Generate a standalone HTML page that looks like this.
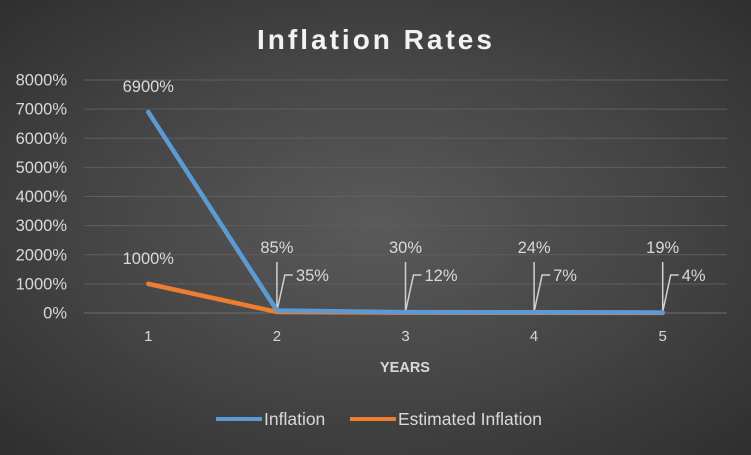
<!DOCTYPE html>
<html><head><meta charset="utf-8"><style>
html,body{margin:0;padding:0}
body{width:751px;height:450px;overflow:hidden;background:radial-gradient(ellipse at 50% 50%,#5a5a5a 0%,#444 55%,#2f2f2f 100%);font-family:"Liberation Sans",sans-serif}
</style></head><body>
<svg id="chart" width="751" height="450" xmlns="http://www.w3.org/2000/svg">
<text x="376" y="49" text-anchor="middle" fill="#f2f2f2" font-size="28" font-weight="bold" letter-spacing="3" font-family="Liberation Sans, sans-serif">Inflation Rates</text>
<g id="grid"></g><g id="yticks"></g><g id="xticks"></g><g id="leaders"></g><g id="series"></g><g id="labels"></g>
<text x="405" y="372" text-anchor="middle" fill="#d9d9d9" font-size="14.5" font-weight="bold">YEARS</text>
<g>
<line x1="216" y1="419" x2="262" y2="419" stroke="#5b9bd5" stroke-width="4"/>
<text x="264" y="425" fill="#d9d9d9" font-size="17.5">Inflation</text>
<line x1="350" y1="419" x2="396" y2="419" stroke="#ed7d31" stroke-width="4"/>
<text x="398" y="425" fill="#d9d9d9" font-size="17.5">Estimated Inflation</text>
</g>
</svg>
<script>
const categories=["1","2","3","4","5"];
const inflation=[6900,85,30,24,19];
const estimated=[1000,35,12,7,4];
const yTicks=[0,1000,2000,3000,4000,5000,6000,7000,8000];
const NS="http://www.w3.org/2000/svg";
const x0=84,x1=727,yTop=80,yBot=313,yMax=8000;
const bw=(x1-x0)/categories.length;
function xs(i){return x0+bw*(i+0.5);}
function ys(v){return yBot-(v/yMax)*(yBot-yTop);}
function mk(tag,attrs,parent){const e=document.createElementNS(NS,tag);for(const k in attrs)e.setAttribute(k,attrs[k]);document.getElementById(parent).appendChild(e);return e;}
yTicks.forEach(t=>{
 const g=mk('line',{x1:x0,x2:x1,y1:ys(t),y2:ys(t),stroke:t===0?'#6e6e6e':'#5e5e5e','stroke-width':1},'grid');
 
 
 const l=mk('text',{x:67,y:ys(t)+5.5,'text-anchor':'end',fill:'#d9d9d9','font-size':16.5},'yticks');
 l.textContent=t+'%';
 
 
});
categories.forEach((c,i)=>{
 const l=mk('text',{x:xs(i),y:341,'text-anchor':'middle',fill:'#d9d9d9','font-size':15},'xticks');
 l.textContent=c;
 
 
});
function series(vals,color,name){
 const p=mk('polyline',{points:vals.map((v,i)=>xs(i)+','+ys(v)).join(' '),fill:'none',stroke:color,'stroke-width':4.5,'stroke-linejoin':'round','stroke-linecap':'round'},'series');
 
 
}
categories.forEach((c,i)=>{
 if(i===0)return;
 const a=mk('line',{x1:xs(i),x2:xs(i),y1:ys(inflation[i])-1,y2:262,stroke:'#d0d0d0','stroke-width':1.5},'leaders');
 
 
 const b=mk('polyline',{points:xs(i)+','+(ys(estimated[i])-1)+' '+(xs(i)+8)+',275 '+(xs(i)+16)+',275',fill:'none',stroke:'#d0d0d0','stroke-width':1.5},'leaders');
 
 
});
series(estimated,'#ed7d31','estimated');
series(inflation,'#5b9bd5','inflation');
inflation.forEach((v,i)=>{
 const y=i===0?ys(v)-20:253;
 const t=mk('text',{x:xs(i),y:y,'text-anchor':'middle',fill:'#d9d9d9','font-size':16.5},'labels');
 t.textContent=v+'%';
 
 
});
estimated.forEach((v,i)=>{
 const t=i===0?mk('text',{x:xs(i),y:ys(v)-20,'text-anchor':'middle',fill:'#d9d9d9','font-size':16.5},'labels'):mk('text',{x:xs(i)+19,y:281,'text-anchor':'start',fill:'#d9d9d9','font-size':16.5},'labels');
 t.textContent=v+'%';
 
 
});
</script>
</body></html>
